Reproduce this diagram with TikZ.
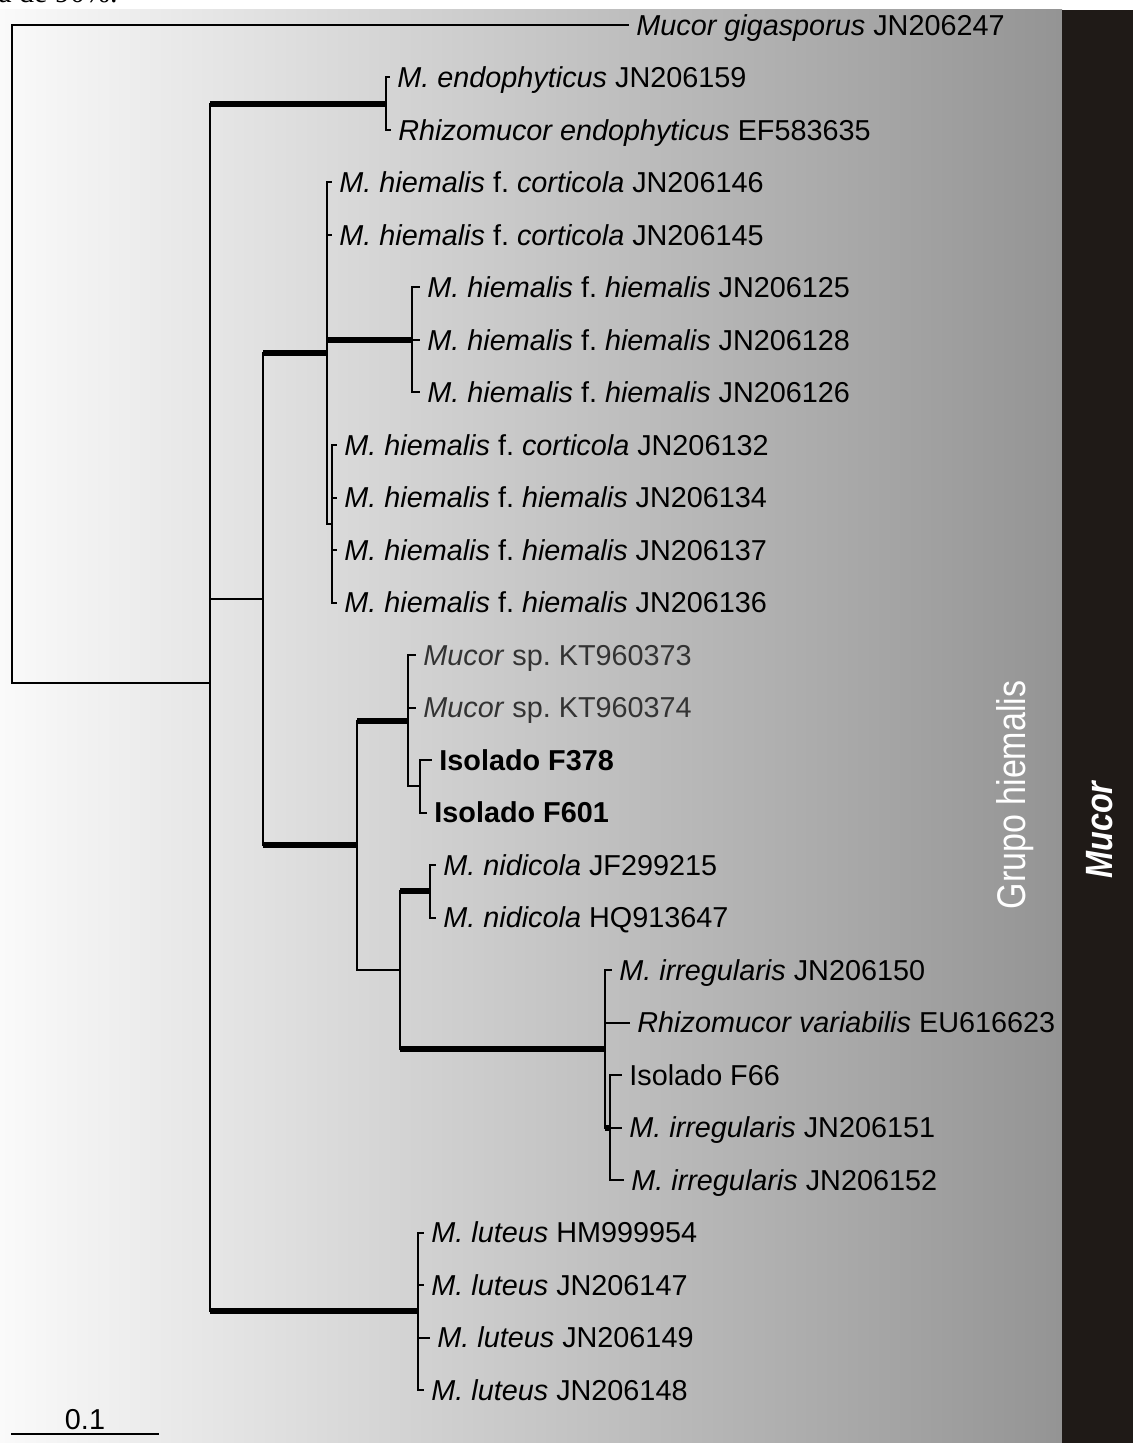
\documentclass[tikz,border=0pt]{standalone}
\usepackage{fontspec}
\setmainfont{Liberation Sans}
\newfontfamily\capfont{Liberation Serif}
\newfontfamily\narrowfont[FakeStretch=0.85]{Liberation Sans}
\usetikzlibrary{calc}
\definecolor{barcol}{RGB}{31,26,23}
\frenchspacing
\tikzset{ sp/.style = { anchor       = west
                      , inner xsep   = 4pt
                      , inner ysep   = 0pt
                      , text height  = 10.3pt
                      , text depth   = 0pt
                      , font         = \fontsize{14.4}{16}\selectfont
                      },
          br/.style = { draw       = black
                      , line width = 1pt
                      , line cap   = rect
                      },
          bb/.style = { draw       = black
                      , line width = 3pt
                      },
          grp/.style = { rotate     = 90
                       , text       = white
                       , inner sep  = 0pt
                       }
        }
\begin{document}
\begin{tikzpicture}[x=0.5pt, y=-0.5pt]
    \useasboundingbox (0,0) rectangle (1133,1443);
    \fill[white] (0,0) rectangle (1133,1443);
    \shade[left color=black!2, middle color=black!18, right color=black!42] (0,10) rectangle (1062,1443);
    \fill[barcol] (1062,10) rectangle (1133,1443);
    \node[anchor=base west, inner sep=0pt, font=\capfont\fontsize{15}{18}\selectfont] (cap) at (-2,3) {a de 90\%.};

    % leaves
    \node[sp] (l0)  at (628,25)     {\textit{Mucor gigasporus} JN206247};
    \node[sp] (l1)  at (389,77.5)   {\textit{M. endophyticus} JN206159};
    \node[sp] (l2)  at (390,130)    {\textit{Rhizomucor endophyticus} EF583635};
    \node[sp] (l3)  at (331,182.5)  {\textit{M. hiemalis} f. \textit{corticola} JN206146};
    \node[sp] (l4)  at (331,235)    {\textit{M. hiemalis} f. \textit{corticola} JN206145};
    \node[sp] (l5)  at (419,287.5)  {\textit{M. hiemalis} f. \textit{hiemalis} JN206125};
    \node[sp] (l6)  at (419,340)    {\textit{M. hiemalis} f. \textit{hiemalis} JN206128};
    \node[sp] (l7)  at (419,392.5)  {\textit{M. hiemalis} f. \textit{hiemalis} JN206126};
    \node[sp] (l8)  at (336,445)    {\textit{M. hiemalis} f. \textit{corticola} JN206132};
    \node[sp] (l9)  at (336,497.5)  {\textit{M. hiemalis} f. \textit{hiemalis} JN206134};
    \node[sp] (l10) at (336,550)    {\textit{M. hiemalis} f. \textit{hiemalis} JN206137};
    \node[sp] (l11) at (336,602.5)  {\textit{M. hiemalis} f. \textit{hiemalis} JN206136};
    \node[sp, text=black!80] (l12) at (415,655)   {\textit{Mucor} sp. KT960373};
    \node[sp, text=black!80] (l13) at (415,707.5) {\textit{Mucor} sp. KT960374};
    \node[sp] (l14) at (431,760)    {\textbf{Isolado F378}};
    \node[sp] (l15) at (426,812.5)  {\textbf{Isolado F601}};
    \node[sp] (l16) at (435,865)    {\textit{M. nidicola} JF299215};
    \node[sp] (l17) at (435,917.5)  {\textit{M. nidicola} HQ913647};
    \node[sp] (l18) at (611,970)    {\textit{M. irregularis} JN206150};
    \node[sp] (l19) at (629,1022.5) {\textit{Rhizomucor variabilis} EU616623};
    \node[sp] (l20) at (621,1075)   {Isolado F66};
    \node[sp] (l21) at (621,1127.5) {\textit{M. irregularis} JN206151};
    \node[sp] (l22) at (623,1180)   {\textit{M. irregularis} JN206152};
    \node[sp] (l23) at (423,1232.5) {\textit{M. luteus} HM999954};
    \node[sp] (l24) at (423,1285)   {\textit{M. luteus} JN206147};
    \node[sp] (l25) at (429,1337.5) {\textit{M. luteus} JN206149};
    \node[sp] (l26) at (423,1390)   {\textit{M. luteus} JN206148};

    % inner nodes
    \coordinate (root) at (12,354);
    \coordinate (nA)   at (210,683);
    \coordinate (nEn)  at (386,103.75);
    \coordinate (nB)   at (263,599);
    \coordinate (nH1)  at (327,353);
    \coordinate (nH2)  at (412,340);
    \coordinate (nH3)  at (332,523.75);
    \coordinate (nD)   at (357,845.3);
    \coordinate (nSp)  at (408,720.6);
    \coordinate (nF)   at (420,786.25);
    \coordinate (nC)   at (400,970);
    \coordinate (nNi)  at (430,891.25);
    \coordinate (nIr)  at (605,1048.75);
    \coordinate (nF66) at (610,1127.5);
    \coordinate (nLu)  at (418,1311.25);

    % vertical lines
    \draw[br] (root |- l0)  -- (root |- nA);
    \draw[br] (nA |- nEn)   -- (nA |- nLu);
    \draw[br] (nEn |- l1)   -- (nEn |- l2);
    \draw[br] (nB |- nH1)   -- (nB |- nD);
    \draw[br] (nH1 |- l3)   -- (nH1 |- nH3);
    \draw[br] (nH2 |- l5)   -- (nH2 |- l7);
    \draw[br] (nH3 |- l8)   -- (nH3 |- l11);
    \draw[br] (nD |- nSp)   -- (nD |- nC);
    \draw[br] (nSp |- l12)  -- (nSp |- nF);
    \draw[br] (nF |- l14)   -- (nF |- l15);
    \draw[br] (nC |- nNi)   -- (nC |- nIr);
    \draw[br] (nNi |- l16)  -- (nNi |- l17);
    \draw[br] (nIr |- l18)  -- (nIr |- nF66);
    \draw[br] (nF66 |- l20) -- (nF66 |- l22);
    \draw[br] (nLu |- l23)  -- (nLu |- l26);

    % thin branches
    \draw[br] (root |- l0)  -- (l0);
    \draw[br] (root |- nA)  -- (nA);
    \draw[br] (nA |- nB)    -- (nB);
    \draw[br] (nEn |- l1)   -- (l1);
    \draw[br] (nEn |- l2)   -- (l2);
    \draw[br] (nH1 |- l3)   -- (l3);
    \draw[br] (nH1 |- l4)   -- (l4);
    \draw[br] (nH1 |- nH3)  -- (nH3);
    \draw[br] (nH2 |- l5)   -- (l5);
    \draw[br] (nH2 |- l6)   -- (l6);
    \draw[br] (nH2 |- l7)   -- (l7);
    \draw[br] (nH3 |- l8)   -- (l8);
    \draw[br] (nH3 |- l9)   -- (l9);
    \draw[br] (nH3 |- l10)  -- (l10);
    \draw[br] (nH3 |- l11)  -- (l11);
    \draw[br] (nSp |- l12)  -- (l12);
    \draw[br] (nSp |- l13)  -- (l13);
    \draw[br] (nSp |- nF)   -- (nF);
    \draw[br] (nF |- l14)   -- (l14);
    \draw[br] (nF |- l15)   -- (l15);
    \draw[br] (nD |- nC)    -- (nC);
    \draw[br] (nNi |- l16)  -- (l16);
    \draw[br] (nNi |- l17)  -- (l17);
    \draw[br] (nIr |- l18)  -- (l18);
    \draw[br] (nIr |- l19)  -- (l19);
    \draw[br] (nF66 |- l20) -- (l20);
    \draw[br] (nF66 |- l21) -- (l21);
    \draw[br] (nF66 |- l22) -- (l22);
    \draw[br] (nLu |- l23)  -- (l23);
    \draw[br] (nLu |- l24)  -- (l24);
    \draw[br] (nLu |- l25)  -- (l25);
    \draw[br] (nLu |- l26)  -- (l26);

    % supported branches
    \draw[bb] (nA |- nEn)   -- (nEn);
    \draw[bb] (nA |- nLu)   -- (nLu);
    \draw[bb] (nB |- nH1)   -- (nH1);
    \draw[bb] (nB |- nD)    -- (nD);
    \draw[bb] (nH1 |- nH2)  -- (nH2);
    \draw[bb] (nD |- nSp)   -- (nSp);
    \draw[bb] (nC |- nNi)   -- (nNi);
    \draw[bb] (nC |- nIr)   -- (nIr);
    \draw[bb] (nIr |- nF66) -- (nF66);

    % scale bar
    \coordinate (sb0) at (12,1434);
    \coordinate (sb1) at (158,1434);
    \draw[br] (sb0) -- (sb1);
    \node[above, inner sep=2pt, font=\fontsize{14.4}{16}\selectfont] (sbl) at ($(sb0)!0.5!(sb1)$) {0.1};

    % group labels
    \node[grp, font=\narrowfont\fontsize{20}{24}\selectfont] (grupo) at (1015,795) {Grupo hiemalis};
    \node[grp, font=\narrowfont\fontsize{19}{22}\selectfont\bfseries\itshape] (mucor) at (1100,830) {Mucor};
\end{tikzpicture}
\end{document}
